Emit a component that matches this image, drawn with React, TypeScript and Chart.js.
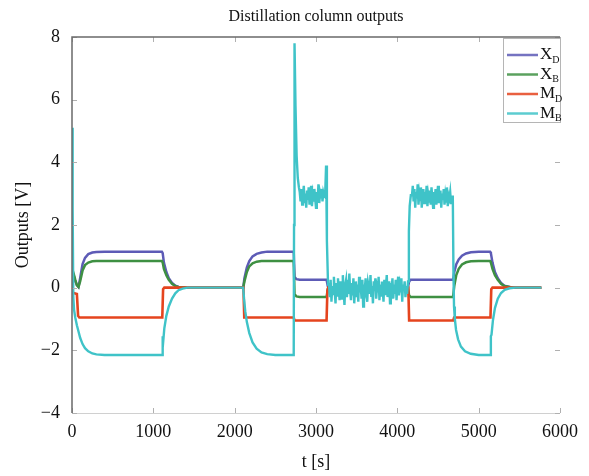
import React, { useEffect, useRef } from 'react';
import { Chart, registerables } from 'chart.js';

Chart.register(...registerables);

const SERIF = '"Liberation Serif", "Times New Roman", Times, serif';

const titleText = 'Distillation column outputs';
const xTitle = 't [s]';
const yTitle = 'Outputs [V]';
const xTickValues = [0, 1000, 2000, 3000, 4000, 5000, 6000];
const yTickValues = [-4, -2, 0, 2, 4, 6, 8];

const seriesMain = ['X', 'X', 'M', 'M'];
const seriesSub = ['D', 'B', 'D', 'B'];
const seriesColors = ['#5d5bb6', '#3e9042', '#e5441e', '#3fc3c8'];

// X_D and X_B share sample times
const xTime = [0, 20, 40, 60, 80, 100, 130, 160, 200, 250, 300, 400, 1105, 1115, 1130, 1160, 1190, 1230, 1270, 1310,
  1420, 2105, 2120, 2150, 2180, 2220, 2270, 2330, 2400, 2726, 2736, 2760, 2800, 3130, 3145, 3200, 4130, 4145, 4165, 4200,
  4685, 4700, 4725, 4755, 4795, 4845, 4905, 5000, 5140, 5150, 5170, 5200, 5235, 5275, 5315, 5420, 5770];
const xdValue = [0.55, 0.4, 0.22, 0.08, 0.02, 0.3, 0.75, 0.95, 1.07, 1.12, 1.14, 1.15, 1.15, 1.1, 0.8, 0.5, 0.3, 0.15, 0.06, 0.02,
  0, 0, 0.3, 0.65, 0.85, 1.0, 1.08, 1.12, 1.15, 1.15, 0.35, 0.27, 0.25, 0.25, 0.05, 0, 0, 0.2, 0.25, 0.25,
  0.25, 0.5, 0.75, 0.9, 1.02, 1.09, 1.13, 1.15, 1.15, 1.1, 0.8, 0.5, 0.3, 0.15, 0.06, 0, 0];
const xbValue = [0.62, 0.45, 0.25, 0.08, 0.02, 0.2, 0.55, 0.72, 0.8, 0.84, 0.85, 0.85, 0.85, 0.8, 0.6, 0.4, 0.25, 0.12, 0.05, 0.02,
  0, 0, 0.2, 0.5, 0.68, 0.78, 0.83, 0.85, 0.85, 0.85, -0.2, -0.28, -0.3, -0.3, -0.05, 0, 0, -0.25, -0.3, -0.3,
  -0.3, 0.05, 0.4, 0.6, 0.74, 0.81, 0.84, 0.85, 0.85, 0.8, 0.6, 0.4, 0.25, 0.12, 0.05, 0, 0];

const mdTime = [0, 60, 75, 90, 1110, 1120, 1135, 2108, 2118, 2726, 2736, 3130, 3140, 3150, 4135, 4145, 4688, 4698, 5145, 5155, 5170, 5770];
const mdValue = [-0.15, -0.2, -0.9, -0.95, -0.95, -0.05, 0, 0, -0.95, -0.95, -1.05, -1.05, -0.1, 0, 0, -1.05, -1.05, -0.95, -0.95, -0.05, 0, 0];

// M_B: smooth parts and noisy plateaus (10 s sampling)
const mbHeadTime = [0, 8, 16, 25, 40, 60, 80, 100, 130, 160, 200, 250, 300, 400, 1110, 1115, 1122, 1135, 1160, 1190,
  1230, 1270, 1310, 1360, 1420, 2105, 2115, 2130, 2150, 2180, 2220, 2270, 2330, 2400, 2500, 2726, 2730, 2736, 2748, 2762,
  2776, 2790];
const mbHeadValue = [5.1, 2.5, -0.3, -0.7, -0.95, -1.2, -1.4, -1.6, -1.8, -1.93, -2.03, -2.1, -2.13, -2.15, -2.15, -1.55, -1.7, -1.3, -0.9, -0.6,
  -0.35, -0.18, -0.08, -0.03, 0, 0, -0.35, -0.75, -1.1, -1.45, -1.75, -1.95, -2.07, -2.12, -2.15, -2.15, 2.0, 7.8, 5.8, 4.2,
  3.5, 3.2];
const mbNoiseAStart = 2800;
const mbNoiseA = [3.05, 2.75, 3.15, 2.65, 2.95, 3.25, 2.7, 3.0, 2.55, 3.1, 2.8, 3.2, 2.65, 2.9, 3.25, 2.6, 2.95, 2.75, 3.15, 2.85,
  2.55, 3.05, 2.8, 3.3, 2.7, 3.0, 2.85, 3.15, 2.75, 3.05, 2.95];
const mbDropTime = [3112, 3124, 3134, 3148];
const mbDropValue = [2.9, 3.9, 1.5, 0.1];
const mbNoiseBStart = 3160;
const mbNoiseB = [0.1, -0.3, 0.25, -0.45, 0.05, -0.2, 0.35, -0.1, -0.5, 0.15, -0.25, 0.3, -0.05, -0.4, 0.2, 0.0, -0.35, 0.4, -0.15, -0.55,
  0.1, 0.25, -0.3, 0.05, -0.2, 0.45, -0.1, -0.4, 0.15, -0.25, 0.3, -0.5, 0.0, 0.2, -0.3, 0.1, -0.45, 0.35, -0.15, 0.05,
  -0.35, 0.25, -0.6, 0.1, -0.05, 0.3, -0.25, -0.45, 0.15, 0.0, -0.2, 0.4, -0.3, 0.05, -0.5, 0.2, -0.1, 0.3, -0.35, 0.0,
  -0.15, 0.35, -0.4, 0.1, -0.25, 0.2, -0.05, -0.45, 0.25, -0.2, 0.05, 0.4, -0.3, -0.1, 0.2, -0.5, 0.15, -0.05, 0.3, -0.35,
  0.1, -0.2, 0.25, -0.4, 0.0, 0.35, -0.25, 0.05, -0.15, 0.3, -0.45, 0.1, -0.1, 0.2, -0.3, 0.05, -0.2];
const mbRiseTime = [4132, 4142, 4152, 4166];
const mbRiseValue = [0.2, 1.8, 2.6, 2.95];
const mbNoiseCStart = 4180;
const mbNoiseC = [2.95, 3.25, 2.75, 3.15, 2.55, 3.05, 2.85, 3.3, 2.65, 3.0, 2.8, 3.2, 2.55, 2.95, 3.15, 2.7, 3.05, 2.85, 3.25, 2.6,
  2.95, 2.75, 3.1, 2.65, 3.2, 2.85, 2.55, 3.05, 2.8, 3.15, 2.65, 2.95, 3.25, 2.7, 2.9, 3.1, 2.55, 3.0, 2.8, 3.15,
  2.65, 2.95, 2.75, 3.2, 2.6, 2.95, 2.85, 3.05, 2.7, 2.9];
const mbTailTime = [4682, 4690, 4697, 4707, 4722, 4747, 4782, 4832, 4902, 5000, 5145, 5150, 5158, 5175, 5200, 5235, 5275, 5320, 5380, 5450, 5770];
const mbTailValue = [2.9, 0.5, -0.6, -1.0, -1.35, -1.65, -1.88, -2.03, -2.11, -2.15, -2.15, -1.55, -1.5, -1.05, -0.65, -0.35, -0.17, -0.07, -0.02, 0, 0];
const NOISE_STEP = 10;

function pairs(times: number[], values: number[]) {
  return times.map((t, i) => ({ x: t, y: values[i] }));
}
function sampled(start: number, values: number[]) {
  return values.map((v, i) => ({ x: start + i * NOISE_STEP, y: v }));
}

const PLOT_LEFT = 72;
const PLOT_RIGHT_PAD = 29;
const PLOT_TOP = 37;

const framePlugin = {
  id: 'frame',
  beforeDraw(chart: any) {
    const { ctx, width, height } = chart;
    ctx.save();
    ctx.fillStyle = '#ffffff';
    ctx.fillRect(0, 0, width, height);
    ctx.restore();
  },
  afterDatasetsDraw(chart: any) {
    const { ctx, chartArea: a, scales } = chart;
    const xs = scales.x, ys = scales.y;
    ctx.save();
    ctx.strokeStyle = '#d0d0d0';
    ctx.lineWidth = 1;
    ctx.beginPath();
    ctx.moveTo(a.left, a.bottom + 0.5);
    ctx.lineTo(a.right, a.bottom + 0.5);
    ctx.stroke();
    ctx.strokeStyle = '#b0b0b0';
    xTickValues.forEach((v) => {
      const px = Math.round(xs.getPixelForValue(v)) + 0.5;
      ctx.beginPath();
      ctx.moveTo(px, a.bottom);
      ctx.lineTo(px, a.bottom - 5);
      ctx.moveTo(px, a.top);
      ctx.lineTo(px, a.top + 5);
      ctx.stroke();
    });
    yTickValues.forEach((v) => {
      const py = Math.round(ys.getPixelForValue(v)) + 0.5;
      ctx.beginPath();
      ctx.moveTo(a.left, py);
      ctx.lineTo(a.left + 5, py);
      ctx.moveTo(a.right, py);
      ctx.lineTo(a.right - 5, py);
      ctx.stroke();
    });
    ctx.strokeStyle = '#6a6a6a';
    ctx.lineWidth = 1.5;
    ctx.beginPath();
    ctx.moveTo(a.left, a.bottom);
    ctx.lineTo(a.left, a.top);
    ctx.lineTo(a.right, a.top);
    ctx.stroke();
    ctx.restore();
  },
};

const textPlugin = {
  id: 'titleAndLegend',
  afterDraw(chart: any) {
    const { ctx, chartArea: a } = chart;
    ctx.save();
    ctx.fillStyle = '#111';
    ctx.font = `16px ${SERIF}`;
    ctx.textAlign = 'center';
    ctx.textBaseline = 'middle';
    ctx.fillText(titleText, (a.left + a.right) / 2, 17);

    const boxL = a.right - 57;
    const boxT = a.top + 1;
    const boxW = 57;
    const boxH = 84;
    ctx.fillStyle = '#ffffff';
    ctx.fillRect(boxL, boxT, boxW, boxH);
    ctx.strokeStyle = '#b5b5b5';
    ctx.lineWidth = 1;
    ctx.strokeRect(boxL + 0.5, boxT + 0.5, boxW, boxH);
    seriesMain.forEach((m, i) => {
      const y = boxT + 17 + i * 19.5;
      ctx.strokeStyle = seriesColors[i];
      ctx.globalAlpha = 0.85;
      ctx.lineWidth = 2.5;
      ctx.beginPath();
      ctx.moveTo(boxL + 4, y);
      ctx.lineTo(boxL + 35, y);
      ctx.stroke();
      ctx.globalAlpha = 1;
      ctx.fillStyle = '#111';
      ctx.textBaseline = 'middle';
      ctx.textAlign = 'left';
      ctx.font = `17px ${SERIF}`;
      ctx.fillText(m, boxL + 37, y);
      const w = ctx.measureText(m).width;
      ctx.font = `10px ${SERIF}`;
      ctx.fillText(seriesSub[i], boxL + 37 + w, y + 5);
    });
    ctx.restore();
  },
};

export default function App() {
  const ref = useRef<HTMLCanvasElement>(null);
  useEffect(() => {
    document.body.style.margin = '0';
    const mbData = [
      ...pairs(mbHeadTime, mbHeadValue),
      ...sampled(mbNoiseAStart, mbNoiseA),
      ...pairs(mbDropTime, mbDropValue),
      ...sampled(mbNoiseBStart, mbNoiseB),
      ...pairs(mbRiseTime, mbRiseValue),
      ...sampled(mbNoiseCStart, mbNoiseC),
      ...pairs(mbTailTime, mbTailValue),
    ];
    const mk = (i: number, data: any[], width: number, order: number) => ({
      label: seriesMain[i] + seriesSub[i],
      data,
      borderColor: seriesColors[i],
      backgroundColor: seriesColors[i],
      borderWidth: width,
      pointRadius: 0,
      tension: 0,
      fill: false,
      order,
    });
    const chart = new Chart(ref.current as HTMLCanvasElement, {
      type: 'line',
      data: {
        datasets: [
          mk(0, pairs(xTime, xdValue), 2.5, 3),
          mk(1, pairs(xTime, xbValue), 2.5, 2),
          mk(2, pairs(mdTime, mdValue), 2.6, 1),
          mk(3, mbData, 2.4, 0),
        ],
      },
      options: {
        responsive: false,
        animation: false,
        events: [],
        layout: { padding: { left: 0, right: PLOT_RIGHT_PAD, top: PLOT_TOP, bottom: 0 } },
        plugins: {
          legend: { display: false },
          tooltip: { enabled: false },
          title: { display: false },
        },
        scales: {
          x: {
            type: 'linear',
            min: 0,
            max: 6000,
            ticks: {
              stepSize: 1000,
              color: '#111',
              font: { family: SERIF, size: 18 },
              padding: 8,
              maxRotation: 0,
              callback: (v: any) => String(v),
            },
            grid: { display: false, drawTicks: false },
            border: { display: false },
            title: {
              display: true,
              text: xTitle,
              color: '#111',
              font: { family: SERIF, size: 18 },
              padding: { top: 0, bottom: 3 },
            },
            afterFit: (s: any) => { s.height = 63; },
          },
          y: {
            type: 'linear',
            min: -4,
            max: 8,
            ticks: {
              stepSize: 2,
              color: '#111',
              font: { family: SERIF, size: 18 },
              padding: 12,
              callback: (v: any) => (Number(v) < 0 ? '\u2212' + Math.abs(Number(v)) : String(v)),
            },
            grid: { display: false, drawTicks: false },
            border: { display: false },
            title: {
              display: true,
              text: yTitle,
              color: '#111',
              font: { family: SERIF, size: 18 },
              padding: { top: 12, bottom: 0 },
            },
            afterFit: (s: any) => { s.width = PLOT_LEFT; },
          },
        },
      },
      plugins: [framePlugin, textPlugin],
    });
    return () => chart.destroy();
  }, []);
  return (
    <div style={{ position: 'fixed', left: 0, top: 0, width: 589, height: 476, background: '#fff' }}>
      <canvas ref={ref} width={589} height={476} style={{ display: 'block' }} />
    </div>
  );
}
